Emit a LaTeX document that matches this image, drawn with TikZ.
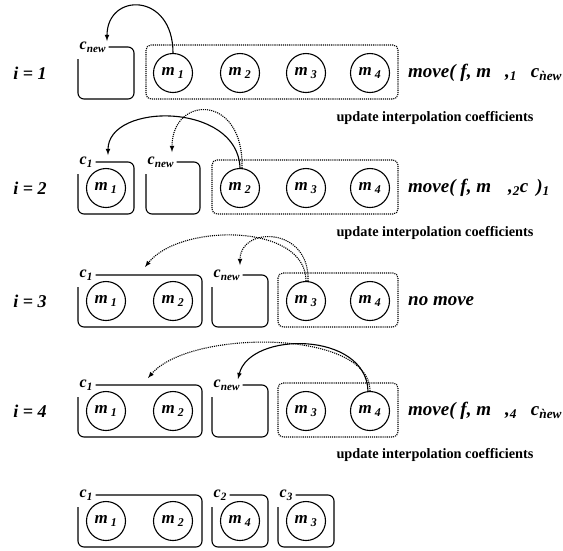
\documentclass[tikz,border=0pt]{standalone}
\usepackage{fontspec}
\setmainfont{Liberation Serif}
\usetikzlibrary{arrows,positioning}

\newcommand{\mem}[1]{\textit{m}\,\textsubscript{\textit{#1}}}
\newcommand{\clu}[1]{\textit{c}\textsubscript{\textit{#1}}}

\begin{document}
\begin{tikzpicture}[x=1pt,y=-1pt,
        member/.style={circle,draw,line width=1.1pt,minimum size=39pt,inner sep=0pt,
            font=\fontsize{17}{17}\selectfont\bfseries\itshape},
        cname/.style={inner sep=2.5pt,anchor=west,
            font=\fontsize{16}{16}\selectfont\bfseries\itshape},
        cluster/.style={line width=1.1pt,rounded corners=6pt},
        pool/.style={densely dotted,line width=1.1pt,rounded corners=5pt},
        rowlabel/.style={font=\fontsize{18}{18}\selectfont\bfseries\itshape},
        movetext/.style={anchor=west,inner sep=0pt,font=\fontsize{19}{19}\selectfont\bfseries\itshape},
        updtext/.style={font=\fontsize{14.3}{14.3}\selectfont\bfseries},
        moved/.style={-latex,line width=1.1pt},
        tried/.style={-latex,densely dotted,line width=1.1pt}]
    \useasboundingbox (0,0) rectangle (563,550);

    % i = 1
    \node[rowlabel] (i1) at (30,73) {i = 1};
    \node[cname] (r1cn) at (77,47) {\clu{new}};
    \draw[cluster] (r1cn.east) -| (134,99) -| (78,59);
    \draw[pool] (146,45) rectangle (398,99);
    \node[member] (r1m1) at (173,73) {\mem1};
    \node[member] (r1m2) at (240,73) {\mem2};
    \node[member] (r1m3) at (306,73) {\mem3};
    \node[member] (r1m4) at (370,73) {\mem4};
    \node[movetext] (r1mv) at (408,73) {move( f, m\hspace{14pt},\textsubscript{1}\hspace{14pt}c\textsubscript{\`{n}ew}};
    \node[updtext] (r1up) at (435,118) {update interpolation coefficients};
    \coordinate (r1to) at (107,41);
    \draw[moved] (r1m1.north) .. controls (173,-8) and (107,-8) .. (r1to);

    % i = 2
    \node[rowlabel] (i2) at (30,188) {i = 2};
    \node[cname] (r2c1) at (77,162) {\clu1};
    \draw[cluster] (r2c1.east) -| (134,214) -| (78,174);
    \node[cname] (r2cn) at (145,162) {\clu{new}};
    \draw[cluster] (r2cn.east) -| (200,214) -| (146,174);
    \draw[pool] (212,160) rectangle (398,214);
    \node[member] (r2m1) at (106,188) {\mem1};
    \node[member] (r2m2) at (240,188) {\mem2};
    \node[member] (r2m3) at (306,188) {\mem3};
    \node[member] (r2m4) at (370,188) {\mem4};
    \node[movetext] (r2mv) at (408,188) {move( f, m\hspace{17pt},\textsubscript{2}c\hspace{8pt})\textsubscript{1}};
    \node[updtext] (r2up) at (435,233) {update interpolation coefficients};
    \coordinate (r2to1) at (108,155);
    \coordinate (r2ton) at (172,152);
    \draw[moved] (r2m2.north) .. controls (238,102) and (108,102) .. (r2to1);
    \draw[tried] ([xshift=2pt]r2m2.north) .. controls (244,93) and (172,95) .. (r2ton);

    % i = 3
    \node[rowlabel] (i3) at (30,301) {i = 3};
    \node[cname] (r3c1) at (77,275) {\clu1};
    \draw[cluster] (r3c1.east) -| (202,327) -| (78,287);
    \node[cname] (r3cn) at (211,275) {\clu{new}};
    \draw[cluster] (r3cn.east) -| (268,327) -| (212,287);
    \draw[pool] (278,273) rectangle (398,327);
    \node[member] (r3m1) at (106,301) {\mem1};
    \node[member] (r3m2) at (173,301) {\mem2};
    \node[member] (r3m3) at (306,301) {\mem3};
    \node[member] (r3m4) at (370,301) {\mem4};
    \node[movetext] (r3mv) at (408,301) {no move};
    \coordinate (r3to1) at (145,267);
    \coordinate (r3ton) at (240,265);
    \draw[tried] (r3m3.north) .. controls (306,223) and (180,223) .. (r3to1);
    \draw[tried] ([xshift=2pt]r3m3.north) .. controls (310,226) and (240,226) .. (r3ton);

    % i = 4
    \node[rowlabel] (i4) at (30,411) {i = 4};
    \node[cname] (r4c1) at (77,385) {\clu1};
    \draw[cluster] (r4c1.east) -| (202,437) -| (78,397);
    \node[cname] (r4cn) at (211,385) {\clu{new}};
    \draw[cluster] (r4cn.east) -| (268,437) -| (212,397);
    \draw[pool] (278,383) rectangle (398,437);
    \node[member] (r4m1) at (106,411) {\mem1};
    \node[member] (r4m2) at (173,411) {\mem2};
    \node[member] (r4m3) at (306,411) {\mem3};
    \node[member] (r4m4) at (370,411) {\mem4};
    \node[movetext] (r4mv) at (408,411) {move( f, m\hspace{14pt},\textsubscript{4}\hspace{14pt}c\textsubscript{\`{n}ew}};
    \node[updtext] (r4up) at (435,455) {update interpolation coefficients};
    \coordinate (r4to1) at (148,378);
    \coordinate (r4ton) at (238,379);
    \draw[tried] (r4m4.north) .. controls (370,329) and (190,329) .. (r4to1);
    \draw[moved] ([xshift=-2pt]r4m4.north) .. controls (366,331) and (250,331) .. (r4ton);

    % result
    \node[cname] (r5c1) at (77,495) {\clu1};
    \draw[cluster] (r5c1.east) -| (202,547) -| (78,507);
    \node[cname] (r5c2) at (211,495) {\clu2};
    \draw[cluster] (r5c2.east) -| (268,547) -| (212,507);
    \node[cname] (r5c3) at (277,495) {\clu3};
    \draw[cluster] (r5c3.east) -| (334,547) -| (278,507);
    \node[member] (r5m1) at (106,521) {\mem1};
    \node[member] (r5m2) at (173,521) {\mem2};
    \node[member] (r5m4) at (240,521) {\mem4};
    \node[member] (r5m3) at (306,521) {\mem3};
\end{tikzpicture}
\end{document}
